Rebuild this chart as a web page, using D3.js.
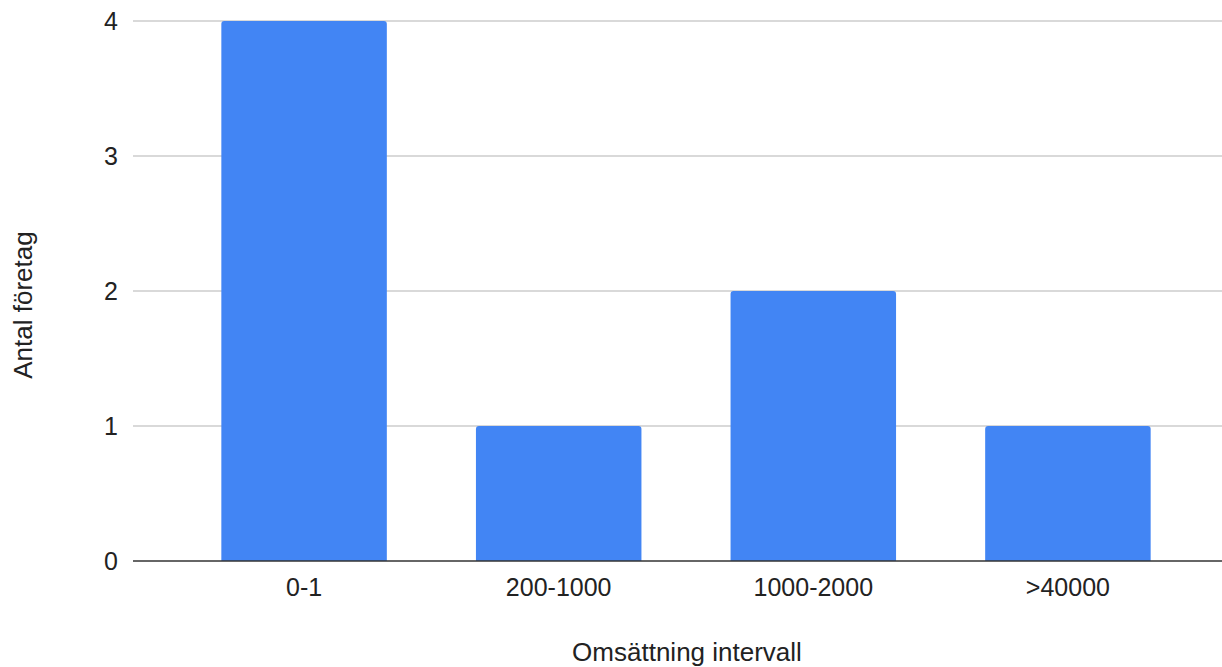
<!DOCTYPE html>
<html><head><meta charset="utf-8">
<script src="https://cdn.jsdelivr.net/npm/d3@7"></script>
<style>body{margin:0;background:#fff}svg{display:block}text{font-family:"Liberation Sans",Arial,sans-serif;fill:#222}</style>
</head><body>
<svg id="c" width="1222" height="667"></svg>
<script>
const categories = ["0-1", "200-1000", "1000-2000", ">40000"];
const values = [4, 1, 2, 1];
const yTicks = [0, 1, 2, 3, 4];
const xTitle = "Omsättning intervall";
const yTitle = "Antal företag";

(function () {
const svg = d3.select("#c");
const plotLeft = 133, plotRight = 1238.5, plotTop = 21, plotBottom = 561;
const x = d3.scaleBand().domain(categories).range([133.5, plotRight]).paddingInner(0.35).paddingOuter(0.345);
const y = d3.scaleLinear().domain([0, 4]).range([plotBottom, plotTop]);

// gridlines
svg.append("g").selectAll("line").data(yTicks.filter(d => d !== 0)).join("line")
  .attr("x1", plotLeft).attr("x2", 1222).attr("y1", d => y(d)).attr("y2", d => y(d))
  .attr("stroke", "#cccccc").attr("stroke-width", 1.3);

// y labels
svg.append("g").selectAll("text").data(yTicks).join("text")
  .attr("x", 118).attr("y", d => y(d) + 9).attr("text-anchor", "end")
  .attr("font-size", 25).text(d => d);

// bars
const r = 3;
svg.append("g").selectAll("path").data(categories).join("path")
  .attr("fill", "#4285f4")
  .attr("d", (c, i) => {
    const x0 = x(c), w = x.bandwidth(), y0 = y(values[i]), y1 = y(0);
    return `M${x0},${y1}V${y0 + r}Q${x0},${y0} ${x0 + r},${y0}H${x0 + w - r}Q${x0 + w},${y0} ${x0 + w},${y0 + r}V${y1}Z`;
  });

// baseline
svg.append("line").attr("x1", plotLeft).attr("x2", 1222).attr("y1", y(0)).attr("y2", y(0))
  .attr("stroke", "#333").attr("stroke-width", 1.6);

// x labels
svg.append("g").selectAll("text").data(categories).join("text")
  .attr("x", d => x(d) + x.bandwidth() / 2).attr("y", 596).attr("text-anchor", "middle")
  .attr("font-size", 25).text(d => d);

// titles
svg.append("text").attr("x", 687).attr("y", 661).attr("text-anchor", "middle")
  .attr("font-size", 26).text(xTitle);
svg.append("text").attr("transform", "translate(32,305) rotate(-90)").attr("text-anchor", "middle")
  .attr("font-size", 26).text(yTitle);
})();
</script>
</body></html>
